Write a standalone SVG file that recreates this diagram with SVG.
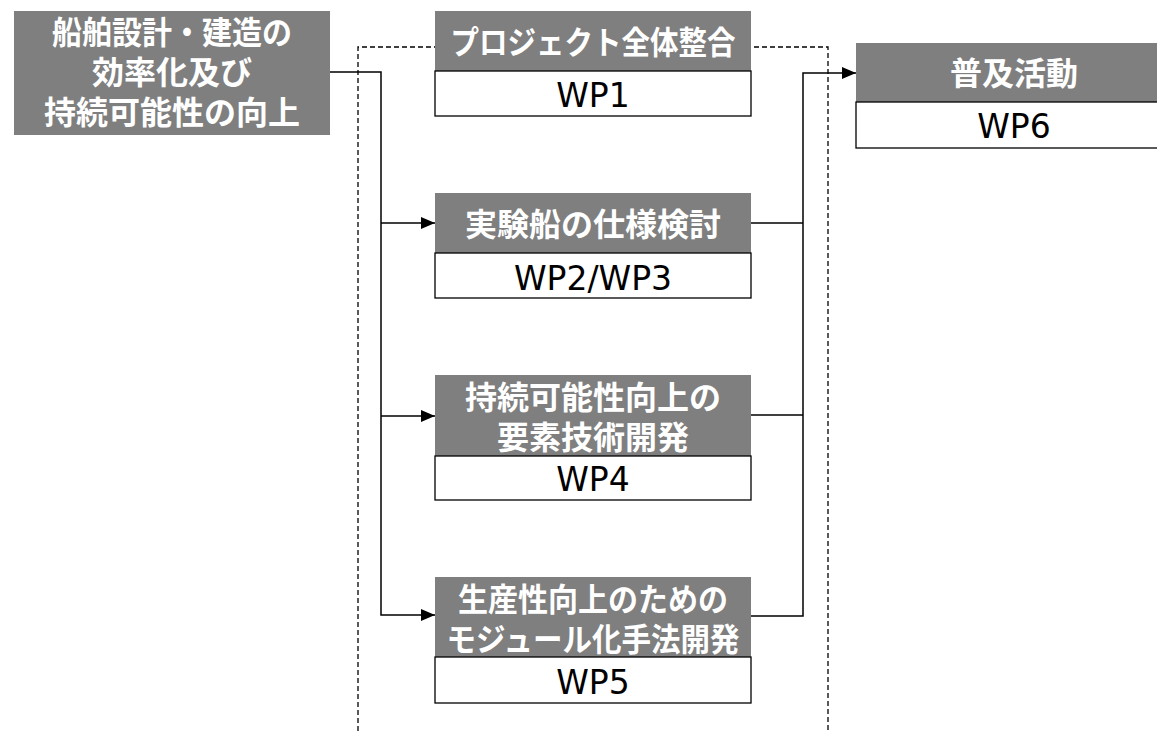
<svg xmlns="http://www.w3.org/2000/svg" width="1157" height="731" viewBox="0 0 1157 731">
<style>
.hd{fill:#7f7f7f}
.wb{fill:#fff;stroke:#000;stroke-width:1.3}
.ht{fill:#fff;font-family:"Noto Sans CJK JP","Noto Sans CJK SC",sans-serif;font-weight:bold;font-size:32px;text-anchor:middle}
.wt{fill:#000;font-family:"DejaVu Sans","Verdana",sans-serif;font-size:33px;text-anchor:middle}
.ln{fill:none;stroke:#000;stroke-width:1.5}
.ds{fill:none;stroke:#000;stroke-width:1.3;stroke-dasharray:5 3}
</style>
<defs>
<marker id="ah" markerWidth="14" markerHeight="12" refX="14" refY="6" orient="auto" markerUnits="userSpaceOnUse">
<path d="M0,0 L14,6 L0,12 Z" fill="#000"/>
</marker>
</defs>
<rect width="1157" height="731" fill="#fff"/>
<path class="ds" d="M358 731 V47 H828 V731"/>
<g id="connectors">
<path class="ln" d="M330 72 H381 V615 H435" marker-end="url(#ah)"/>
<path class="ln" d="M381 223 H435" marker-end="url(#ah)"/>
<path class="ln" d="M381 416 H435" marker-end="url(#ah)"/>
<path class="ln" d="M751 223 H803"/>
<path class="ln" d="M751 415 H803"/>
<path class="ln" d="M751 616 H803 V73 H856" marker-end="url(#ah)"/>
</g>
<g id="goal">
<rect class="hd" x="14" y="11" width="316" height="124"/>
<text class="ht" x="172" y="44" textLength="240" lengthAdjust="spacingAndGlyphs">船舶設計・建造の</text>
<text class="ht" x="172" y="84">効率化及び</text>
<text class="ht" x="172" y="124">持続可能性の向上</text>
</g>
<g id="wp1">
<rect class="hd" x="435" y="11" width="316" height="60"/>
<text class="ht" x="593" y="54" textLength="285" lengthAdjust="spacingAndGlyphs">プロジェクト全体整合</text>
<rect class="wb" x="435" y="71" width="316" height="45"/>
<text class="wt" x="593" y="107">WP1</text>
</g>
<g id="wp23">
<rect class="hd" x="435" y="193" width="316" height="60"/>
<text class="ht" x="593" y="236">実験船の仕様検討</text>
<rect class="wb" x="435" y="253" width="316" height="45"/>
<text class="wt" x="593" y="290">WP2/WP3</text>
</g>
<g id="wp4">
<rect class="hd" x="435" y="375" width="316" height="81"/>
<text class="ht" x="593" y="409">持続可能性向上の</text>
<text class="ht" x="593" y="449">要素技術開発</text>
<rect class="wb" x="435" y="456" width="316" height="44"/>
<text class="wt" x="593" y="491">WP4</text>
</g>
<g id="wp5">
<rect class="hd" x="435" y="577" width="316" height="80"/>
<text class="ht" x="593" y="611" textLength="270" lengthAdjust="spacingAndGlyphs">生産性向上のための</text>
<text class="ht" x="593" y="651" textLength="293" lengthAdjust="spacingAndGlyphs">モジュール化手法開発</text>
<rect class="wb" x="435" y="657" width="316" height="46"/>
<text class="wt" x="593" y="694">WP5</text>
</g>
<g id="wp6">
<rect class="hd" x="856" y="43" width="320" height="59"/>
<text class="ht" x="1014" y="85">普及活動</text>
<rect class="wb" x="856" y="102" width="320" height="46"/>
<text class="wt" x="1014" y="138">WP6</text>
</g>
</svg>
